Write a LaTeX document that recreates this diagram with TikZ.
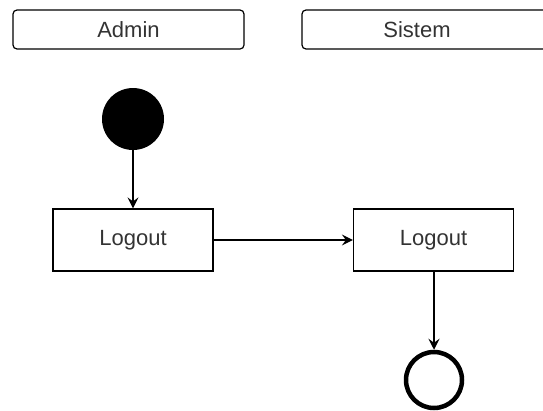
\documentclass[tikz,border=0pt]{standalone}
\usepackage{fontspec}
\setmainfont{Liberation Sans}
\usetikzlibrary{arrows.meta}
\begin{document}
\begin{tikzpicture}[x=1pt,y=-1pt,
  txt/.style={text=black!80, font=\fontsize{22}{26}\selectfont},
  header/.style={draw, line width=1.2pt, rounded corners=4pt, txt},
  act/.style={draw, line width=1.2pt, minimum width=160pt, minimum height=62pt, inner sep=0pt, txt},
  flow/.style={draw, line width=1.2pt, -{Stealth[length=11pt,width=11pt,inset=4pt]}}]
\useasboundingbox (0,0) rectangle (543,410);
\begin{scope}
\clip (0,0) rectangle (543,410);
\draw[line width=1.2pt, rounded corners=4pt] (13,10) rectangle (244,49);
\node[txt] (admin) at (128.5,29.5) {Admin};
\draw[line width=1.2pt, rounded corners=4pt] (302,10) rectangle (580,49);
\node[txt] (sistem) at (417,29.5) {Sistem};
\end{scope}
\node[circle, fill=black, minimum size=62pt, inner sep=0pt] (start) at (133,119) {};
\node[act] (l1) at (133,240) {Logout};
\node[act] (l2) at (433.5,240) {Logout};
\node[circle, draw, line width=4.5pt, minimum size=56pt, inner sep=0pt] (end) at (434,380) {};
\draw[flow] (start) -- (l1);
\draw[flow] (l1) -- (l2);
\draw[flow] (l2.south -| end) -- (end.north);
\end{tikzpicture}
\end{document}
